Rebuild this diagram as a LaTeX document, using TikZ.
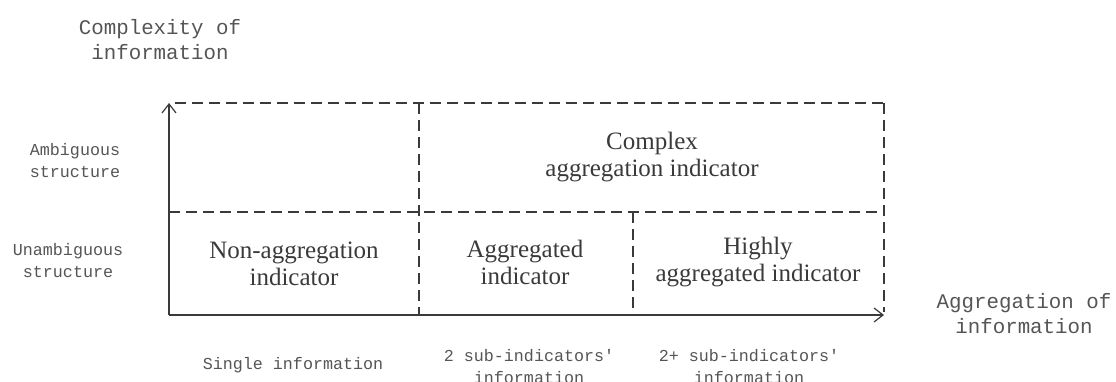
\documentclass[tikz,border=0pt]{standalone}
\usepackage{fontspec}
\setmainfont{Liberation Serif}
\newfontfamily\labelmono{Liberation Mono}
\usetikzlibrary{arrows.meta}
\definecolor{inkgray}{HTML}{3A3A3A}
\definecolor{labelgray}{HTML}{555555}
\begin{document}
\begin{tikzpicture}[x=1pt,y=-1pt,
  axisline/.style={line width=1.6pt,draw=inkgray,-{Straight Barb[length=9pt,width=14pt,line width=1.2pt]}},
  gridline/.style={line width=1.4pt,draw=inkgray,dash pattern=on 11pt off 6pt},
  celltext/.style={align=center,text=inkgray,font=\fontsize{25}{27}\selectfont,inner sep=0pt},
  biglabel/.style={align=center,text=labelgray,font=\labelmono\fontsize{20.8}{25}\selectfont,inner sep=0pt},
  smalllabel/.style={align=center,text=labelgray,font=\labelmono\fontsize{16.7}{22}\selectfont,inner sep=0pt}]
\useasboundingbox (0,0) rectangle (1116,382);

% corner points of the grid
\coordinate (O) at (169,315);
\coordinate (ytop) at (169,103);
\coordinate (xend) at (884,315);
\coordinate (tl) at (175,103);
\coordinate (tm) at (419,103);
\coordinate (tr) at (884,103);
\coordinate (ml) at (169,212);
\coordinate (mm) at (419,212);
\coordinate (mc) at (633,212);
\coordinate (mr) at (884,212);
\coordinate (bm) at (419,315);
\coordinate (bc) at (633,315);
\coordinate (br) at (884,312);

% dashed cell borders
\draw[gridline] (tl) -- (tr);
\draw[gridline] (ml) -- (mr);
\draw[gridline] (tm) -- (bm);
\draw[gridline] (mc) -- (bc);
\draw[gridline] (tr) -- (br);

% axes
\draw[axisline] (O) -- (ytop);
\draw[axisline] (O) -- (xend);

% cell texts
\node[celltext] (complex) at (652,157) {Complex\\aggregation indicator};
\node[celltext] (nonagg) at (294,264) {Non-aggregation\\indicator};
\node[celltext] (agg) at (525,262) {Aggregated\\indicator};
\node[celltext] (highagg) at (758,262) {Highly\\aggregated indicator};

% axis titles
\node[biglabel] (ytitle) at (160,40) {Complexity of\\information};
\node[biglabel] (xtitle) at (1024,314) {Aggregation of\\information};

% row labels
\node[smalllabel] (amb) at (75,161) {Ambiguous\\structure};
\node[smalllabel] (unamb) at (68,261) {Unambiguous\\structure};

% column labels
\node[smalllabel] (single) at (293,365) {Single information};
\node[smalllabel] (two) at (529,367) {2 sub-indicators'\\information};
\node[smalllabel] (more) at (749,367) {2+ sub-indicators'\\information};
\end{tikzpicture}
\end{document}
